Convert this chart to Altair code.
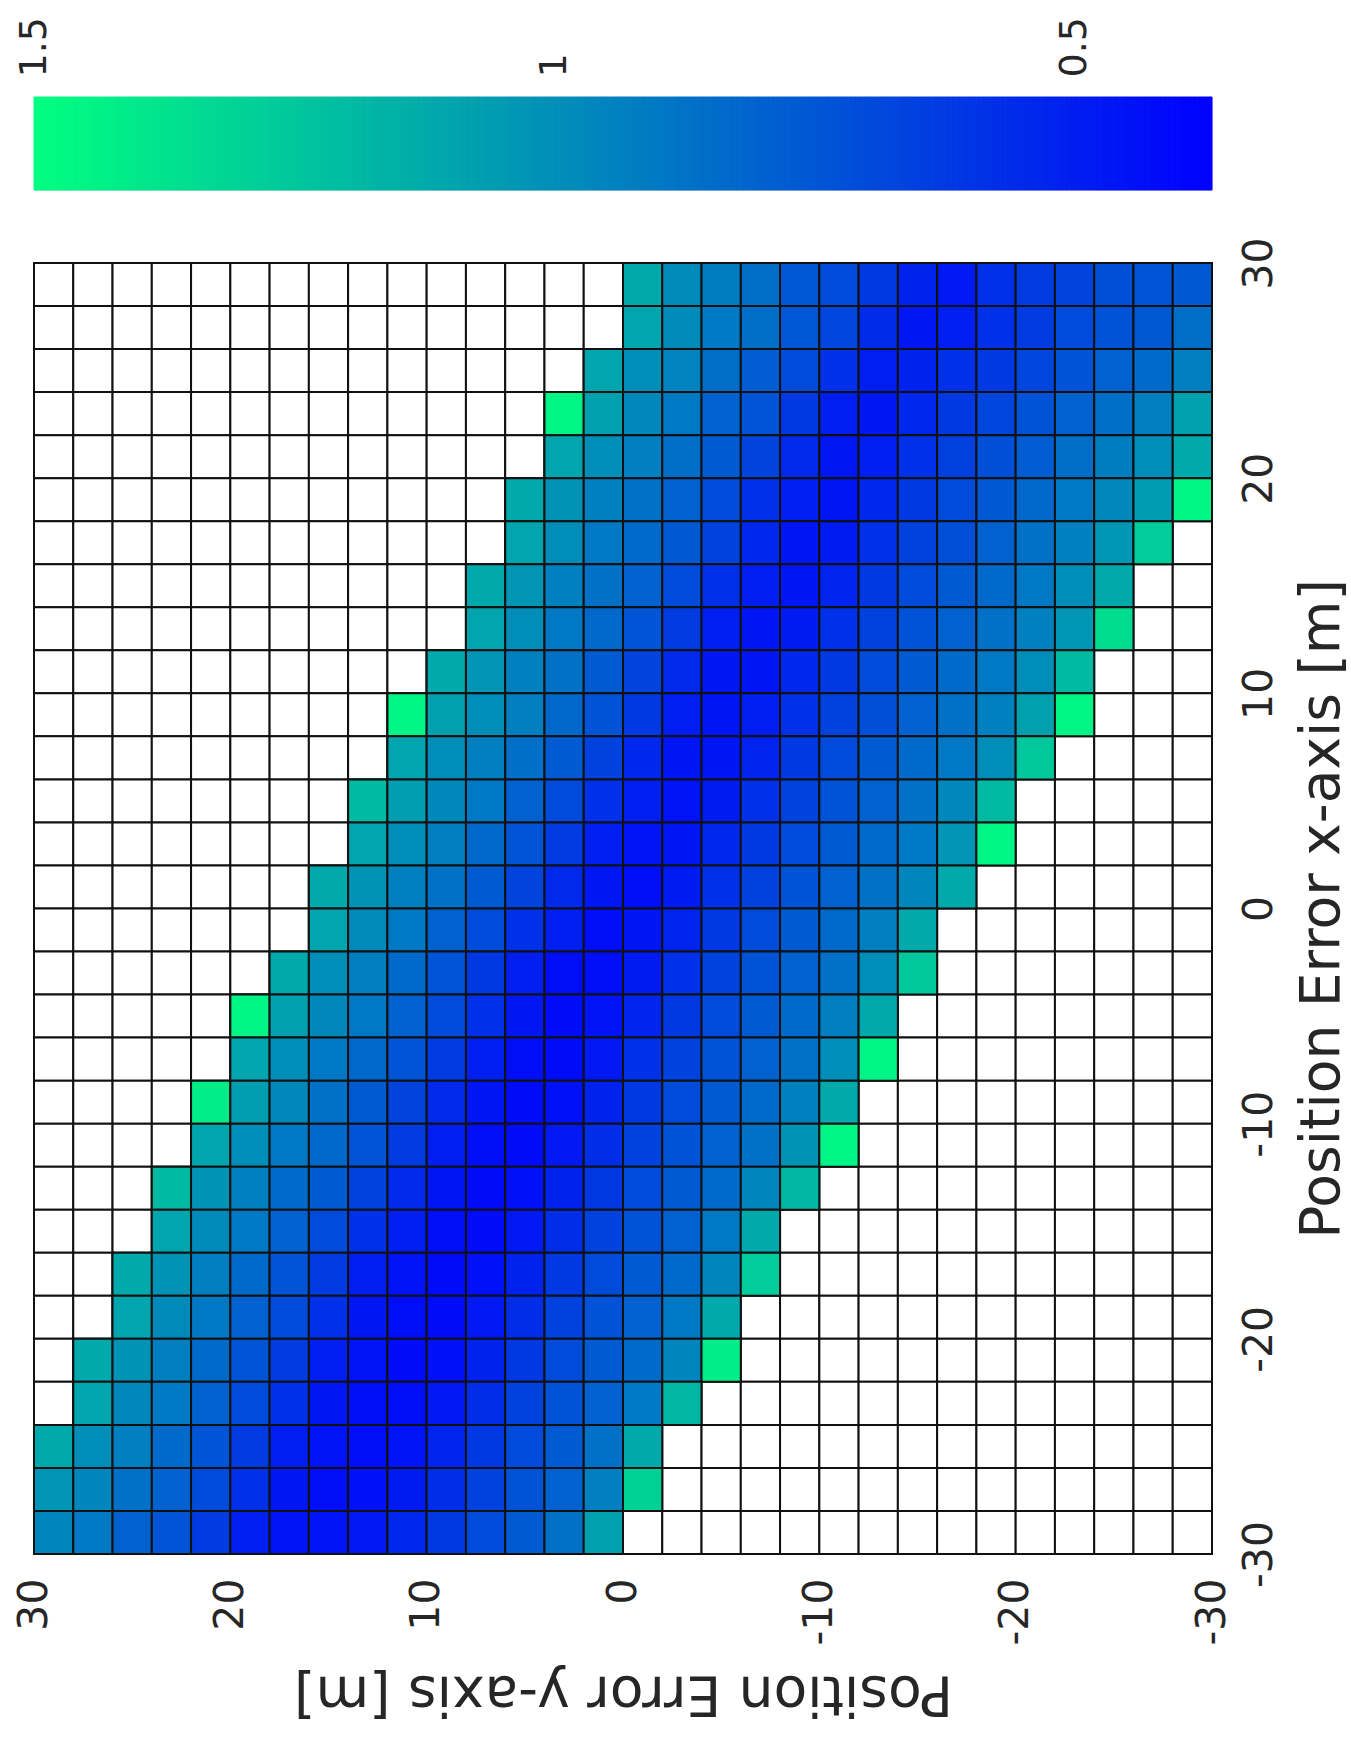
import altair as alt
import pandas as pd

# colour range of the colour bar
CMIN, CMAX = 0.368, 1.5
BAR_TICKS = [0.5, 1.0, 1.5]
AXIS_TICKS = [-30, -20, -10, 0, 10, 20, 30]
CELL = 2  # metres per cell

# first coloured column (picture left = y 30) for each row (picture top = x 30)
FIRST_COL = [15, 15, 14, 13, 13, 12, 12, 11, 11, 10, 9, 9, 8, 8, 7, 7, 6, 5, 5, 4,
             4, 3, 3, 2, 2, 1, 1, 0, 0, 0]

R00 = [1.12, 0.98, 0.92, 0.85, 0.75, 0.70, 0.62, 0.52, 0.48, 0.58, 0.63, 0.67, 0.72, 0.74, 0.76]
R01 = [1.10, 0.98, 0.90, 0.85, 0.75, 0.68, 0.56, 0.47, 0.50, 0.58, 0.63, 0.70, 0.73, 0.76, 0.85]
R02 = [1.10, 1.00, 0.95, 0.85, 0.78, 0.70, 0.58, 0.50, 0.52, 0.58, 0.62, 0.68, 0.73, 0.80, 0.84, 0.93]
R03 = [1.45, 1.08, 0.97, 0.90, 0.80, 0.74, 0.62, 0.50, 0.47, 0.54, 0.62, 0.68, 0.73, 0.80, 0.86, 0.93, 1.08]
R04 = [1.10, 1.00, 0.93, 0.85, 0.77, 0.67, 0.55, 0.47, 0.50, 0.58, 0.65, 0.72, 0.78, 0.85, 0.92, 1.00, 1.12]
R05 = [1.12, 1.02, 0.94, 0.87, 0.80, 0.70, 0.58, 0.50, 0.46, 0.54, 0.62, 0.70, 0.76, 0.83, 0.90, 0.97, 1.06, 1.45]
R06 = [1.10, 1.00, 0.90, 0.84, 0.76, 0.66, 0.54, 0.46, 0.49, 0.58, 0.66, 0.72, 0.80, 0.87, 0.94, 1.04, 1.28]
R07 = [1.12, 1.03, 0.94, 0.87, 0.80, 0.70, 0.58, 0.50, 0.46, 0.53, 0.62, 0.70, 0.77, 0.84, 0.90, 1.00, 1.12]
R08 = [1.10, 1.00, 0.90, 0.83, 0.74, 0.63, 0.50, 0.46, 0.49, 0.58, 0.66, 0.73, 0.80, 0.87, 0.94, 1.04, 1.35]
R09 = [1.12, 1.03, 0.94, 0.87, 0.77, 0.67, 0.55, 0.47, 0.46, 0.54, 0.62, 0.70, 0.77, 0.84, 0.90, 1.00, 1.20]
R10 = [1.45, 1.08, 1.00, 0.93, 0.83, 0.73, 0.62, 0.50, 0.46, 0.50, 0.58, 0.66, 0.72, 0.80, 0.87, 0.94, 1.08, 1.45]
R11 = [1.10, 1.00, 0.93, 0.86, 0.77, 0.66, 0.54, 0.46, 0.46, 0.53, 0.62, 0.70, 0.77, 0.84, 0.90, 1.00, 1.25]
R12 = [1.20, 1.07, 0.97, 0.90, 0.80, 0.70, 0.58, 0.50, 0.45, 0.49, 0.58, 0.66, 0.73, 0.80, 0.87, 0.97, 1.20]
R13 = [1.10, 1.00, 0.93, 0.83, 0.74, 0.63, 0.50, 0.45, 0.46, 0.54, 0.62, 0.70, 0.77, 0.84, 0.90, 1.03, 1.45]
R14 = [1.12, 1.02, 0.94, 0.87, 0.77, 0.67, 0.55, 0.47, 0.43, 0.49, 0.58, 0.66, 0.73, 0.80, 0.87, 0.96, 1.12]
R15 = [1.10, 0.98, 0.90, 0.80, 0.70, 0.58, 0.50, 0.43, 0.46, 0.53, 0.62, 0.70, 0.77, 0.84, 0.93, 1.12]
R16 = [1.12, 1.00, 0.93, 0.84, 0.74, 0.62, 0.50, 0.43, 0.43, 0.49, 0.58, 0.66, 0.73, 0.80, 0.87, 1.00, 1.25]
R17 = [1.45, 1.08, 0.97, 0.90, 0.80, 0.70, 0.58, 0.47, 0.42, 0.45, 0.53, 0.62, 0.70, 0.77, 0.84, 0.93, 1.12]
R18 = [1.10, 1.00, 0.90, 0.83, 0.74, 0.63, 0.50, 0.43, 0.42, 0.48, 0.58, 0.66, 0.73, 0.80, 0.87, 1.00, 1.45]
R19 = [1.42, 1.07, 0.97, 0.87, 0.77, 0.67, 0.55, 0.46, 0.42, 0.44, 0.52, 0.62, 0.70, 0.77, 0.84, 0.94, 1.12]
R20 = [1.10, 1.00, 0.90, 0.83, 0.74, 0.63, 0.50, 0.43, 0.42, 0.48, 0.57, 0.66, 0.73, 0.80, 0.87, 1.02, 1.45]
R21 = [1.20, 1.02, 0.94, 0.84, 0.77, 0.66, 0.55, 0.46, 0.42, 0.44, 0.52, 0.62, 0.70, 0.77, 0.84, 0.96, 1.18]
R22 = [1.10, 0.98, 0.90, 0.80, 0.70, 0.58, 0.50, 0.43, 0.42, 0.48, 0.57, 0.66, 0.73, 0.80, 0.90, 1.12]
R23 = [1.12, 1.02, 0.93, 0.84, 0.74, 0.63, 0.50, 0.45, 0.42, 0.44, 0.52, 0.62, 0.70, 0.77, 0.84, 0.96, 1.28]
R24 = [1.10, 0.98, 0.90, 0.80, 0.70, 0.58, 0.47, 0.43, 0.42, 0.48, 0.57, 0.66, 0.73, 0.80, 0.90, 1.12]
R25 = [1.12, 1.02, 0.93, 0.84, 0.74, 0.63, 0.50, 0.45, 0.42, 0.44, 0.52, 0.62, 0.70, 0.77, 0.84, 0.96, 1.42]
R26 = [1.10, 0.97, 0.90, 0.80, 0.70, 0.58, 0.47, 0.43, 0.43, 0.48, 0.57, 0.66, 0.73, 0.80, 0.90, 1.18]
R27 = [1.12, 1.00, 0.93, 0.84, 0.74, 0.63, 0.50, 0.45, 0.43, 0.45, 0.53, 0.62, 0.70, 0.77, 0.87, 1.12]
R28 = [1.03, 0.96, 0.87, 0.80, 0.70, 0.58, 0.47, 0.43, 0.44, 0.49, 0.57, 0.66, 0.73, 0.80, 0.93, 1.30]
R29 = [0.96, 0.90, 0.80, 0.74, 0.63, 0.50, 0.45, 0.45, 0.48, 0.54, 0.62, 0.70, 0.77, 0.87, 1.08]

ROWS = [R00, R01, R02, R03, R04, R05, R06, R07, R08, R09,
        R10, R11, R12, R13, R14, R15, R16, R17, R18, R19,
        R20, R21, R22, R23, R24, R25, R26, R27, R28, R29]

all_cells, val_cells = [], []
for r, vals in enumerate(ROWS):
    ex_hi = 30 - CELL * r
    for c in range(30):
        ey_hi = 30 - CELL * c
        rec = dict(ex0=ex_hi - CELL, ex1=ex_hi, ey0=ey_hi - CELL, ey1=ey_hi)
        all_cells.append(rec)
        k = c - FIRST_COL[r]
        if 0 <= k < len(vals):
            val_cells.append(dict(rec, v=vals[k]))
df_all = pd.DataFrame(all_cells)
df_val = pd.DataFrame(val_cells)

FONT = "DejaVu Sans"
TXT = "#262626"
LBL = 41
TTL = 55
color_scale = alt.Scale(domain=[CMIN, CMAX], range=["#0000ff", "#00ff80"], interpolate="rgb")

x_enc = alt.X("ey0:Q", scale=alt.Scale(domain=[-30, 30], reverse=True, nice=False, zero=False),
              axis=alt.Axis(values=AXIS_TICKS, labelExpr="'' + datum.value", labelAngle=270,
                            labelAlign="right", labelBaseline="middle",
                            labelFontSize=LBL, labelPadding=24, labelFlush=False, labelOverlap=False,
                            ticks=False, domain=False, grid=False, labelColor=TXT, labelFont=FONT,
                            title="Position Error y-axis [m]", titleAngle=180, titleBaseline="bottom",
                            titleFontSize=TTL, titleFontWeight="normal", titleFont=FONT, titleColor=TXT,
                            titlePadding=20))
y_enc = alt.Y("ex0:Q", scale=alt.Scale(domain=[-30, 30], nice=False, zero=False),
              axis=alt.Axis(orient="right", values=AXIS_TICKS, labelExpr="'' + datum.value",
                            labelAngle=270, labelAlign="center",
                            labelBaseline="top", labelFontSize=LBL, labelPadding=27, labelFlush=False,
                            labelOverlap=False, ticks=False, domain=False, grid=False, labelColor=TXT,
                            labelFont=FONT, title="Position Error x-axis [m]", titleAngle=270,
                            titleBaseline="top", titleFontSize=TTL, titleFontWeight="normal",
                            titleFont=FONT, titleColor=TXT, titlePadding=16))

grid_layer = alt.Chart(df_all).mark_rect(fill="white", stroke="#111111", strokeWidth=2).encode(
    x=x_enc, x2="ey1:Q", y=y_enc, y2="ex1:Q")
val_layer = alt.Chart(df_val).mark_rect(stroke="#111111", strokeWidth=2).encode(
    x=x_enc, x2="ey1:Q", y=y_enc, y2="ex1:Q",
    color=alt.Color("v:Q", scale=color_scale, legend=None))
heat = alt.layer(grid_layer, val_layer).properties(width=1178, height=1291)

# colour bar
NSTEP = 240
bar_rows = []
for i in range(NSTEP):
    a = CMIN + (CMAX - CMIN) * i / NSTEP
    b = CMIN + (CMAX - CMIN) * (i + 1) / NSTEP
    bar_rows.append(dict(a=a, b=b, m=(a + b) / 2))
df_bar = pd.DataFrame(bar_rows)

colorbar = alt.Chart(df_bar).mark_rect(strokeWidth=1).encode(
    x=alt.X("a:Q", scale=alt.Scale(domain=[CMIN, CMAX], reverse=True, nice=False, zero=False),
            axis=alt.Axis(orient="top", values=BAR_TICKS, format=".1~f", labelAngle=270,
                          labelAlign="left", labelBaseline="middle", labelFontSize=LBL - 3, labelPadding=20,
                          labelFlush=False, labelOverlap=False, ticks=False, domain=False, grid=False,
                          labelColor=TXT, labelFont=FONT, title=None)),
    x2="b:Q",
    y=alt.value(0), y2=alt.value(93),
    color=alt.Color("m:Q", scale=color_scale, legend=None),
    stroke=alt.Stroke("m:Q", scale=color_scale, legend=None),
).properties(width=1178, height=93)

chart = alt.vconcat(colorbar, heat, spacing=45).properties(
    padding={"left": 12, "top": 16, "right": 0, "bottom": 0}
).configure_view(stroke="#111111", strokeWidth=2).configure(background="white")

chart.save("out.html", embed_options={"renderer": "svg", "actions": False})
